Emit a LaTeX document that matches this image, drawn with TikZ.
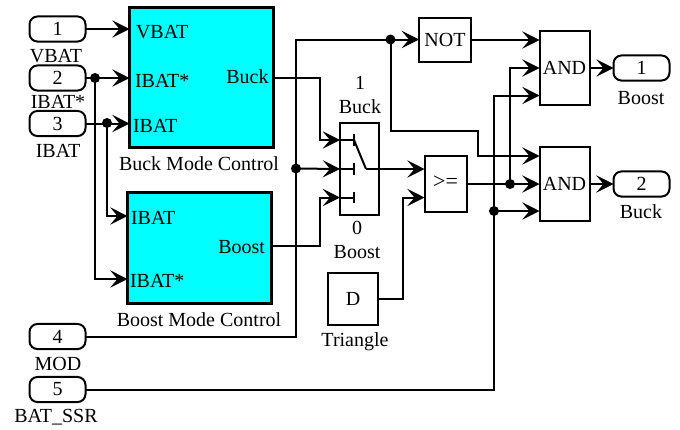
\documentclass[tikz,border=0pt]{standalone}
\usepackage{fontspec}
\setmainfont{Liberation Serif}
\usetikzlibrary{arrows.meta}
\definecolor{blockcyan}{RGB}{0,255,255}
\tikzset{
  x=0.75pt,y=-0.75pt,
  every node/.style={font=\fontsize{15}{15}\selectfont,inner sep=0pt,outer sep=0pt},
  port/.style={draw,line width=1.5pt,rounded corners=6pt,minimum width=42pt,minimum height=18.8pt},
  ctrl/.style={draw,line width=1.8pt,fill=blockcyan},
  gate/.style={draw,line width=1.5pt,fill=white},
  wire/.style={line width=1.5pt},
  arrow/.style={wire,-{Stealth[length=13pt,width=13pt,inset=5.5pt,line width=0.7pt]}},
  dotj/.style={circle,fill=black,minimum size=7.5pt},
}
\begin{document}
\begin{tikzpicture}
\useasboundingbox (0,0) rectangle (680,429);
% blocks
\node[ctrl,minimum width=108pt,minimum height=105pt] (buck) at (201.5,77.5) {};
\node[ctrl,minimum width=108pt,minimum height=83pt] (boost) at (199.5,248) {};
\node[gate,minimum width=29pt,minimum height=69pt] (sw) at (359.5,169) {};
\node[gate,minimum width=31.5pt,minimum height=42pt] (cmp) at (445.5,183.5) {\raisebox{2pt}{\fontsize{16.5}{16.5}\selectfont >=}};
\node[gate,minimum width=38pt,minimum height=38.5pt] (tri) at (353,299) {D};
\node[gate,minimum width=39pt,minimum height=33pt] (not) at (445,40) {NOT};
\node[gate,minimum width=37.5pt,minimum height=55.5pt] (and1) at (564.5,68) {AND};
\node[gate,minimum width=37.5pt,minimum height=55.5pt] (and2) at (564.5,184) {AND};
% ports
\node[port] (p1) at (57.5,29) {1};
\node[port] (p2) at (57.5,78) {2};
\node[port] (p3) at (57.5,123.5) {3};
\node[port] (p4) at (57.5,336.5) {4};
\node[port] (p5) at (57.5,389.5) {5};
\node[port] (o1) at (641.5,68) {1};
\node[port] (o2) at (641.5,184) {2};
% labels
\node (l1) at (56,56) {VBAT};
\node (l2) at (58,102) {IBAT*};
\node (l3) at (58,151) {IBAT};
\node (l4) at (58,364) {MOD};
\node (l5) at (56,417) {BAT\_SSR};
\node (lo1) at (641,98) {Boost};
\node (lo2) at (641,212) {Buck};
\node (lb) at (199,164) {Buck Mode Control};
\node (lbo) at (199,320) {Boost Mode Control};
\node[anchor=west] (b1) at (136,32) {VBAT};
\node[anchor=west] (b2) at (135,81) {IBAT*};
\node[anchor=west] (b3) at (133,126) {IBAT};
\node[anchor=east] (b4) at (268.5,77) {Buck};
\node[anchor=west] (c1) at (131,218) {IBAT};
\node[anchor=west] (c2) at (130,281) {IBAT*};
\node[anchor=east] (c3) at (265,247) {Boost};
\node (s1) at (360,83) {1};
\node (s2) at (360,107) {Buck};
\node (s3) at (357,228) {0};
\node (s4) at (357,252) {Boost};
\node (lt) at (355,342) {Triangle};
% junctions
\node[dotj] (j2) at (95,78) {};
\node[dotj] (j3) at (107,123) {};
\node[dotj] (jm) at (296,168.5) {};
\node[dotj] (jn) at (390.5,39.5) {};
\node[dotj] (jc) at (510,184) {};
\node[dotj] (js) at (494,211) {};
% switch contacts
\coordinate (st) at (340,140);
\coordinate (sm) at (340,169);
\coordinate (sb) at (340,197.5);
\coordinate (ct) at (354,140);
\coordinate (cm) at (354,169);
\coordinate (cb) at (354,197.5);
\coordinate (pv) at (366,169);
\draw[wire] (st) -- (ct) (sm) -- (cm) (sb) -- (cb);
\draw[wire] (354,134) -- (354,146) (354,163) -- (354,175) (354,192) -- (354,203);
\draw[wire] (ct) -- (pv);
% wires
\draw[arrow] (p1.east) -- (buck.west |- p1);
\draw[arrow] (p2.east) -- (buck.west |- p2);
\draw[arrow] (p3.east) -- (buck.west |- p3);
\draw[arrow] (j2.center) -- (95,279) -- (boost.west |- 95,279);
\draw[arrow] (j3.center) -- (107,216) -- (boost.west |- 107,216);
\draw[arrow] (buck.east |- 0,78) -- (320,78) -- (320,140) -- (st);
\draw[arrow] (boost.east |- 0,245.5) -- (320,245.5) -- (320,197.5) -- (sb);
\draw[arrow] (p4.east) -- (296,336.5) -- (296,39.5) -- (not.west |- 0,39.5);
\draw[arrow] (jm.center) -- (sm);
\draw[arrow] (pv) -- (cmp.west |- pv);
\draw[arrow] (tri.east |- 0,299) -- (403,299) -- (403,197.5) -- (cmp.west |- 0,197.5);
\draw[arrow] (jn.center) -- (390.5,131) -- (478,131) -- (478,156) -- (and2.west |- 0,156);
\draw[arrow] (not.east |- 0,40) -- (and1.west |- 0,40);
\draw[arrow] (cmp.east |- 0,184) -- (and2.west |- 0,184);
\draw[arrow] (jc.center) -- (510,68) -- (and1.west |- 0,68);
\draw[wire] (p5.east) -- (494,389.5) -- (js.center);
\draw[arrow] (js.center) -- (and2.west |- js);
\draw[arrow] (js.center) -- (494,95.5) -- (and1.west |- 0,95.5);
\draw[arrow] (and1.east) -- (o1.west);
\draw[arrow] (and2.east) -- (o2.west);
\end{tikzpicture}
\end{document}
